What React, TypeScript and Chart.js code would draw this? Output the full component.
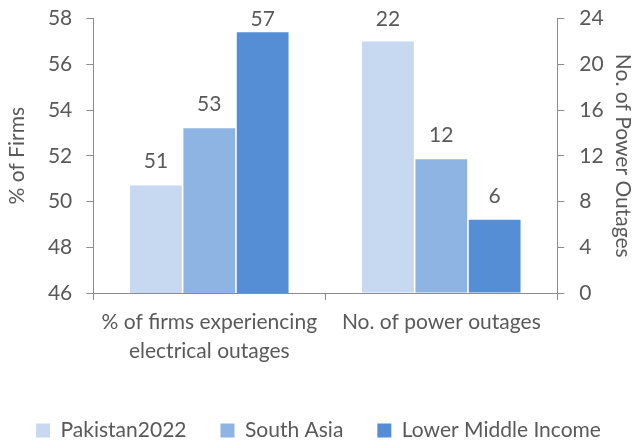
import React, { useEffect, useRef } from "react";
import { Chart, registerables } from "chart.js";

Chart.register(...registerables);

const categories: (string | string[])[] = [
  ["% of firms experiencing", "electrical outages"],
  "No. of power outages",
];
const seriesNames = ["Pakistan2022", "South Asia", "Lower Middle Income"];
const firmsShare = [50.7, 53.2, 57.4]; // % of firms (left axis)
const outageCount = [22.0, 11.7, 6.4]; // number of outages (right axis)
const seriesColors = ["#C6D9F1", "#8DB4E2", "#558ED5"];
const leftTicks = [46, 48, 50, 52, 54, 56, 58];
const rightTicks = [0, 4, 8, 12, 16, 20, 24];

const TEXT = "#595959";
const AXIS = "#8C8C8C";
const FONT = "Lato";

const valueLabels = {
  id: "valueLabels",
  afterDatasetsDraw(chart: any) {
    const { ctx, chartArea } = chart;
    ctx.save();
    ctx.font = `21px ${FONT}`;
    ctx.fillStyle = TEXT;
    ctx.textAlign = "center";
    ctx.textBaseline = "alphabetic";
    chart.data.datasets.forEach((ds: any, di: number) => {
      const meta = chart.getDatasetMeta(di);
      meta.data.forEach((el: any, i: number) => {
        const v = ds.data[i];
        if (v === null || v === undefined) return;
        const y = Math.max(el.y - 17, chartArea.top + 7);
        ctx.fillText(String(Math.round(v)), el.x, y);
      });
    });
    ctx.restore();
  },
};

export default function App() {
  const canvasRef = useRef<HTMLCanvasElement | null>(null);

  useEffect(() => {
    document.body.style.margin = "0";
    const canvas = canvasRef.current;
    if (!canvas) return;

    const datasets: any[] = [];
    seriesNames.forEach((name, i) => {
      datasets.push({
        label: name,
        data: [firmsShare[i], null],
        yAxisID: "y",
        backgroundColor: seriesColors[i],
        skipNull: true,
        categoryPercentage: 0.69,
        barPercentage: 0.97,
      });
    });
    seriesNames.forEach((name, i) => {
      datasets.push({
        label: name,
        data: [null, outageCount[i]],
        yAxisID: "y1",
        backgroundColor: seriesColors[i],
        skipNull: true,
        categoryPercentage: 0.69,
        barPercentage: 0.97,
      });
    });

    const noPad = (s: any) => {
      s.paddingTop = 0;
      s.paddingBottom = 0;
    };

    const chart = new Chart(canvas, {
      type: "bar",
      data: { labels: categories as any, datasets },
      plugins: [valueLabels],
      options: {
        animation: false,
        responsive: true,
        maintainAspectRatio: false,
        layout: { padding: { top: 18.5, left: 0, right: 0, bottom: -9 } },
        plugins: {
          tooltip: { enabled: false },
          legend: {
            position: "bottom",
            labels: {
              boxWidth: 14,
              boxHeight: 14,
              padding: 34,
              color: TEXT,
              font: { family: FONT, size: 21 },
              filter: (item: any) => item.datasetIndex < 3,
            },
          },
        },
        scales: {
          x: {
            type: "category",
            offset: true,
            grid: {
              offset: true,
              drawOnChartArea: false,
              drawTicks: true,
              tickLength: 7,
              color: AXIS,
            },
            border: { display: true, color: AXIS, width: 1 },
            ticks: {
              color: TEXT,
              padding: 8,
              maxRotation: 0,
              autoSkip: false,
              font: { family: FONT, size: 21, lineHeight: 1.38 },
            },
            afterFit: (s: any) => {
              s.height = 93;
              s.paddingLeft = 0;
              s.paddingRight = 0;
            },
          },
          y: {
            type: "linear",
            position: "left",
            min: leftTicks[0],
            max: leftTicks[leftTicks.length - 1],
            ticks: {
              stepSize: leftTicks[1] - leftTicks[0],
              color: TEXT,
              padding: 14,
              font: { family: FONT, size: 21 },
            },
            grid: {
              drawOnChartArea: false,
              drawTicks: true,
              tickLength: 7,
              color: AXIS,
            },
            border: { display: true, color: AXIS, width: 1 },
            title: {
              display: true,
              text: "% of Firms",
              color: TEXT,
              font: { family: FONT, size: 21 },
              padding: { top: 4.4, bottom: 0 },
            },
            afterFit: (s: any) => {
              s.width = 93.3;
              noPad(s);
            },
          },
          y1: {
            type: "linear",
            position: "right",
            min: rightTicks[0],
            max: rightTicks[rightTicks.length - 1],
            ticks: {
              stepSize: rightTicks[1] - rightTicks[0],
              color: TEXT,
              padding: 15,
              font: { family: FONT, size: 21 },
            },
            grid: {
              drawOnChartArea: false,
              drawTicks: true,
              tickLength: 7,
              color: AXIS,
            },
            border: { display: true, color: AXIS, width: 1 },
            title: {
              display: true,
              text: "No. of Power Outages",
              color: TEXT,
              font: { family: FONT, size: 21 },
              padding: { top: 1.4, bottom: 0 },
            },
            afterFit: (s: any) => {
              s.width = 79.7;
              noPad(s);
            },
          },
        },
      } as any,
    });

    return () => chart.destroy();
  }, []);

  return (
    <div style={{ width: 637, height: 442, position: "relative" }}>
      <canvas ref={canvasRef} />
    </div>
  );
}
